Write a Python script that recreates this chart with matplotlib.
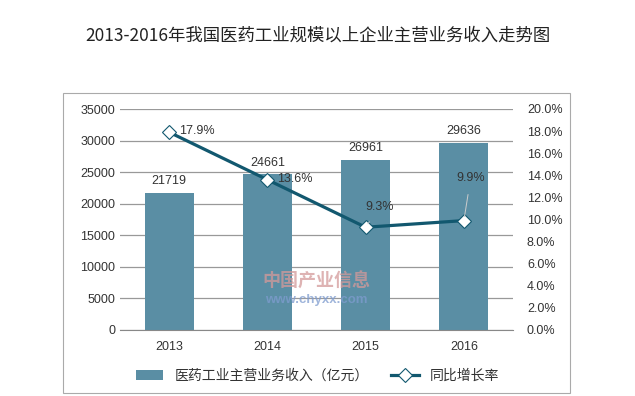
import matplotlib.pyplot as plt
from matplotlib.patches import Rectangle
from matplotlib.ticker import FuncFormatter

plt.rcParams['font.family'] = ['Liberation Sans', 'Noto Sans CJK SC']

years = ['2013', '2014', '2015', '2016']
revenue = [21719, 24661, 26961, 29636]          # 亿元
growth = [17.9, 13.6, 9.3, 9.9]                 # %

bar_color = '#5a8ea4'
line_color = '#12586f'
txt = '#333333'

fig = plt.figure(figsize=(6.35, 3.96), dpi=100)
fig.text(0.5, 0.91, '2013-2016年我国医药工业规模以上企业主营业务收入走势图',
         ha='center', va='center', fontsize=12.5, color='#222222',
         family=['Noto Sans CJK SC'])

# outer frame
fig.patches.append(Rectangle((63/635, 3/396), (570-63)/635, (393-93)/396,
                             transform=fig.transFigure, fill=False,
                             edgecolor='#aaaaaa', linewidth=0.8))

ax = fig.add_axes([120/635, 1-330/396, 393/635, 221/396])
x = range(len(years))
ax.bar(x, revenue, width=0.5, color=bar_color, zorder=2, label='医药工业主营业务收入（亿元）')
ax.set_ylim(0, 35000)
ax.set_yticks(range(0, 35001, 5000))
ax.set_xlim(-0.5, 3.5)
ax.set_xticks(list(x))
ax.set_xticklabels(years)
ax.grid(axis='y', color='#999999', linewidth=0.9, zorder=0)
for s in ax.spines.values():
    s.set_visible(False)
ax.spines['bottom'].set_visible(True)
ax.spines['bottom'].set_color('#888888')
ax.tick_params(length=0, labelsize=9, colors=txt)
ax.tick_params(axis='x', pad=8)
for i, v in enumerate(revenue):
    ax.text(i, v + 900, str(v), ha='center', va='bottom', fontsize=9, color=txt)

# watermark
ax.text(1.5, 7700, '中国产业信息', ha='center', va='center', fontsize=13,
        color='#d49a9a', alpha=0.75, fontweight='bold', zorder=4,
        family=['Noto Sans CJK SC'])
ax.text(1.5, 4700, 'www.chyxx.com', ha='center', va='center', fontsize=9.5,
        color='#7f9ccf', alpha=0.75, fontweight='bold', zorder=4)

ax2 = ax.twinx()
ax2.plot(list(x), growth, color=line_color, linewidth=2.3, marker='D', markersize=7,
         markerfacecolor='white', markeredgecolor=line_color, markeredgewidth=0.8,
         zorder=3, label='同比增长率')
ax2.set_ylim(0, 20)
ax2.set_yticks(range(0, 21, 2))
ax2.yaxis.set_major_formatter(FuncFormatter(lambda v, p: '%.1f%%' % v))
for s in ax2.spines.values():
    s.set_visible(False)
ax2.tick_params(length=0, labelsize=9, colors=txt, pad=10)

# growth labels
ax2.text(0 + 0.1, growth[0] + 0.15, '17.9%', fontsize=9, color=txt, va='center')
ax2.text(1 + 0.1, growth[1] + 0.1, '13.6%', fontsize=9, color=txt, va='center')
ax2.annotate('9.3%', xy=(2, growth[2]), xytext=(2.14, growth[2] + 1.8),
             fontsize=9, color=txt, ha='center', va='center',
             arrowprops=dict(arrowstyle='-', color='#cccccc', linewidth=0.7,
                             shrinkA=5, shrinkB=3))
ax2.annotate('9.9%', xy=(3, growth[3]), xytext=(3.07, growth[3] + 3.9),
             fontsize=9, color=txt, ha='center', va='center',
             arrowprops=dict(arrowstyle='-', color='#cccccc', linewidth=0.7,
                             shrinkA=6, shrinkB=3))

h1, l1 = ax.get_legend_handles_labels()
h2, l2 = ax2.get_legend_handles_labels()
fig.legend(h1 + h2, l1 + l2, loc='center', bbox_to_anchor=(0.5, 1-376/396), ncol=2,
           frameon=False, fontsize=10, handlelength=2.0, columnspacing=1.6,
           labelcolor=txt)

fig.savefig('out.png', dpi=100)
